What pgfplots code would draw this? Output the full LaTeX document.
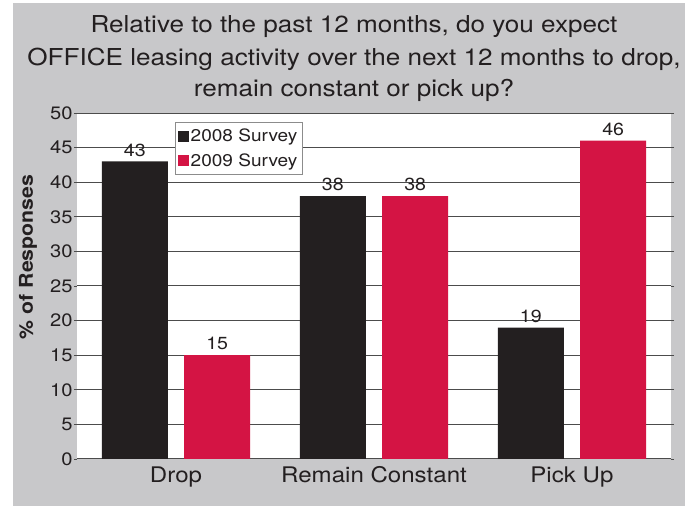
\documentclass[border=0pt]{standalone}
\usepackage{fontspec}
\setmainfont{TeX Gyre Heros}[FakeStretch=1.12]
\usepackage{pgfplots}
\pgfplotsset{compat=1.18}
\definecolor{bgrey}{HTML}{C8C8CA}
\definecolor{barblack}{HTML}{231F20}
\definecolor{barred}{HTML}{D41444}
\definecolor{txt}{HTML}{231F20}
\begin{document}
\begin{tikzpicture}[x=1pt,y=1pt]
\fill[white] (0,0) rectangle (688,508);
\fill[bgrey] (13,2) rectangle (685,505);
\node[font=\fontsize{23.3}{27}\selectfont, text=txt, anchor=base] at (354,475) {Relative to the past 12 months, do you expect};
\node[font=\fontsize{23.3}{27}\selectfont, text=txt, anchor=base] at (354,442) {OFFICE leasing activity over the next 12 months to drop,};
\node[font=\fontsize{23.3}{27}\selectfont, text=txt, anchor=base] at (354,411) {remain constant or pick up?};
\begin{axis}[
  at={(77pt,49pt)}, anchor=south west, scale only axis,
  width=594pt, height=346pt,
  xmin=-0.5, xmax=2.5, ymin=0, ymax=50,
  ybar, bar width=0.333,
  axis background/.style={fill=white},
  axis line style={draw=none},
  ytick={0,5,...,50},
  xtick={0,1,2}, xticklabels={Drop,Remain Constant,Pick Up},
  ymajorgrids, grid style={black!70, line width=1pt},
  tick align=outside, major tick length=3pt,
  ytick style={black!70, line width=0.8pt},
  xtick style={draw=none},
  /pgf/number format/assume math mode=true,
  yticklabel style={font=\fontsize{18}{21}\selectfont, text=txt, xshift=2pt},
  xticklabel style={font=\fontsize{21.5}{25}\selectfont, text=txt, yshift=-1pt},
  ylabel={\bfseries \% of Responses},
  every axis y label/.style={at={(rel axis cs:0,0.584)}, xshift=-49pt, rotate=90, anchor=center,
    font=\fontsize{19}{22}\selectfont, text=txt},
  nodes near coords,
  nodes near coords style={font=\fontsize{17.5}{21}\selectfont, text=txt, anchor=south, yshift=1.5pt},
  /pgf/number format/fixed,
  legend style={at={(0.165,0.974)}, anchor=north west, draw=black!45, fill=white,
    font=\fontsize{17}{20}\selectfont, text=txt, inner xsep=2.5pt, inner ysep=5pt, row sep=6pt,
    legend cell align=left},
]
\addplot[ybar, fill=barblack, draw=none, bar shift=-0.208,
  legend image code/.code={\fill[barblack] (0pt,-5.5pt) rectangle (11pt,5.5pt);}]
  coordinates {(0,43) (1,38) (2,19)};
\addlegendentry{2008 Survey}
\addplot[ybar, fill=barred, draw=none, bar shift=0.208,
  legend image code/.code={\fill[barred] (0pt,-5.5pt) rectangle (11pt,5.5pt);}]
  coordinates {(0,15) (1,38) (2,46)};
\addlegendentry{2009 Survey}
\end{axis}
\end{tikzpicture}
\end{document}
